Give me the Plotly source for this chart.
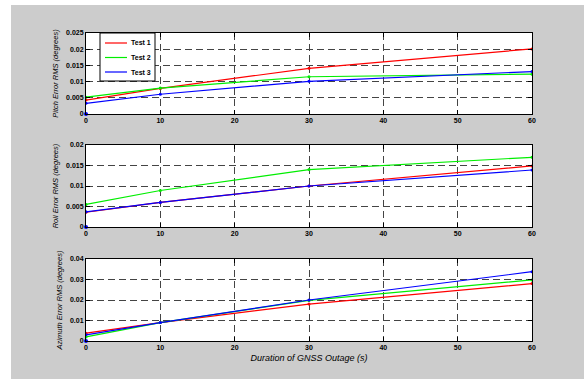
import plotly.graph_objects as go

times = [0, 10, 30, 60]
pitch_t1 = [0.0043, 0.0079, 0.0141, 0.0201]
pitch_t2 = [0.0052, 0.0080, 0.0115, 0.0123]
pitch_t3 = [0.0033, 0.0061, 0.0101, 0.0131]
roll_t1 = [0.0036, 0.0060, 0.0100, 0.0149]
roll_t2 = [0.0055, 0.0089, 0.0140, 0.0170]
roll_t3 = [0.0037, 0.0060, 0.0100, 0.0139]
az_t1 = [0.0038, 0.0090, 0.0180, 0.0280]
az_t2 = [0.0020, 0.0090, 0.0198, 0.0298]
az_t3 = [0.0030, 0.0090, 0.0200, 0.0338]
series_names = ["Test 1", "Test 2", "Test 3"]
colors = ["#ff0000", "#00ee00", "#0000ff"]
y_titles = ["Pitch Error RMS (degrees)", "Roll Error RMS (degrees)", "Azimuth Error RMS (degrees)"]
y_ranges = [[0, 0.025], [0, 0.02], [0, 0.04]]
y_dticks = [0.005, 0.005, 0.01]
x_title = "Duration of GNSS Outage (s)"

panels = [[pitch_t1, pitch_t2, pitch_t3], [roll_t1, roll_t2, roll_t3], [az_t1, az_t2, az_t3]]

W, H = 584, 379
ml, mr, mt, mb = 86, 52, 33, 38
pw, ph = W - ml - mr, H - mt - mb


def px(xp):
    return (xp - ml) / pw


def py(yp):
    return (H - mb - yp) / ph


fig = go.Figure()
domains = [[py(114), 1.0], [py(227), py(145)], [0.0, py(259)]]

tickfont = dict(family="Liberation Sans", size=7, color="black", weight="bold")
titlefont = dict(family="Liberation Sans", size=7.5, color="black", style="italic")

for i, data in enumerate(panels):
    xa = "x" if i == 0 else f"x{i+1}"
    ya = "y" if i == 0 else f"y{i+1}"
    for j, vals in enumerate(data):
        fig.add_trace(go.Scatter(
            x=times, y=vals, mode="lines+markers", name=series_names[j],
            line=dict(color=colors[j], width=1.2), marker=dict(color=colors[j], size=3),
            showlegend=False, xaxis=xa, yaxis=ya))
    fig.add_trace(go.Scatter(x=[0], y=[0], mode="markers", marker=dict(color="#0000ff", size=4),
                             showlegend=False, cliponaxis=False, xaxis=xa, yaxis=ya))
    axis_common = dict(showline=True, linecolor="black", linewidth=1, mirror="allticks",
                       ticks="inside", ticklen=4, tickcolor="black", tickwidth=1,
                       showgrid=True, gridcolor="#444444", griddash="7px,4px", gridwidth=1,
                       zeroline=False, tickfont=tickfont)
    xkey = "xaxis" if i == 0 else f"xaxis{i+1}"
    ykey = "yaxis" if i == 0 else f"yaxis{i+1}"
    xa_d = dict(axis_common, range=[0, 60], dtick=10, tick0=0, anchor=ya, ticklabelstandoff=0)
    if i == 2:
        xa_d["title"] = dict(text=x_title, font=dict(family="Liberation Sans", size=9, color="black", style="italic"), standoff=4)
    fig.layout[xkey] = xa_d
    fig.layout[ykey] = dict(axis_common, range=y_ranges[i], dtick=y_dticks[i], tick0=0, domain=domains[i], anchor=xa,
                            title=dict(text=y_titles[i], font=titlefont, standoff=6))

shapes = [
    dict(type="rect", xref="paper", yref="paper", x0=px(-5), x1=px(11), y0=py(H + 5), y1=py(-5),
         fillcolor="white", line=dict(width=0), layer="below"),
    dict(type="rect", xref="paper", yref="paper", x0=px(-5), x1=px(W + 5), y0=py(5), y1=py(-5),
         fillcolor="white", line=dict(width=0), layer="below"),
    # legend box
    dict(type="rect", xref="paper", yref="paper", x0=px(100), x1=px(155), y0=py(81), y1=py(33),
         fillcolor="white", line=dict(color="black", width=1), layer="above"),
]
annotations = []
leg_y = [43, 57.5, 72]
for j, name in enumerate(series_names):
    shapes.append(dict(type="line", xref="paper", yref="paper", x0=px(105), x1=px(127),
                       y0=py(leg_y[j]), y1=py(leg_y[j]), line=dict(color=colors[j], width=1.2), layer="above"))
    annotations.append(dict(text=name, xref="paper", yref="paper", x=px(128.5), y=py(leg_y[j]),
                            xanchor="left", yanchor="middle", showarrow=False,
                            font=dict(family="Liberation Sans", size=7, color="black", weight="bold")))

fig.update_layout(
    width=W, height=H, margin=dict(l=ml, r=mr, t=mt, b=mb, autoexpand=False),
    paper_bgcolor="#cccccc", plot_bgcolor="white", showlegend=False,
    shapes=shapes, annotations=annotations,
)

fig.write_html("out.html", config={"displayModeBar": False},
               post_script="document.body.style.margin='0px';")
